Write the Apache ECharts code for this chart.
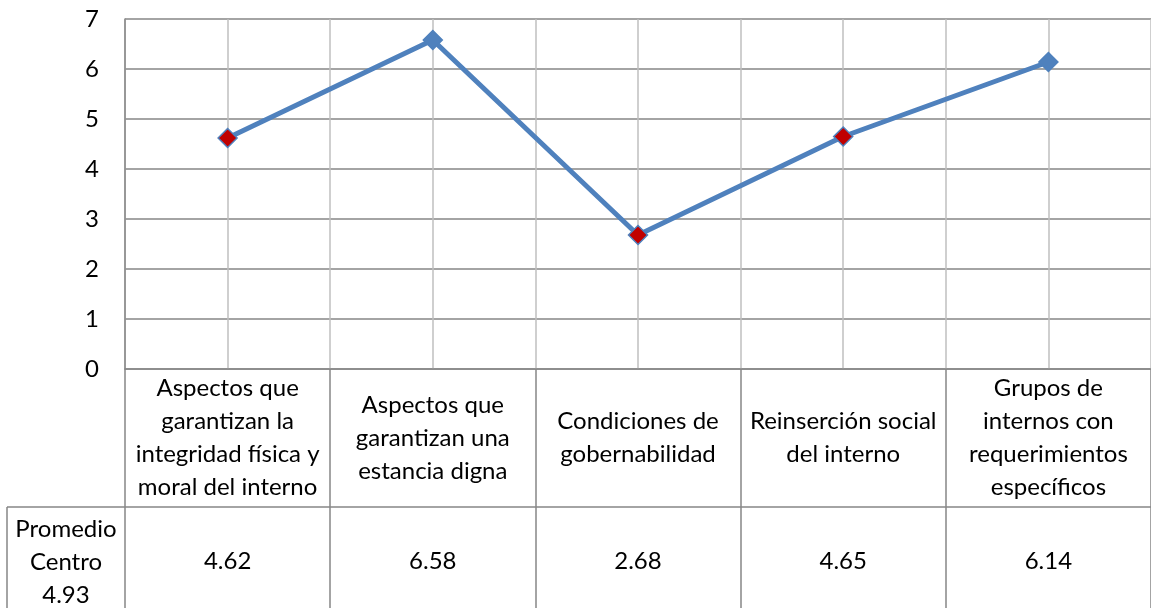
<!DOCTYPE html>
<html><head><meta charset="utf-8">
<script src="https://cdn.jsdelivr.net/npm/echarts@6/dist/echarts.min.js"></script>
<style>html,body{margin:0;padding:0;background:#fff}#c{width:1151px;height:608px}</style>
</head><body><div id="c"></div>
<script>
const categories = [
  'Aspectos que\ngarantizan la\nintegridad física y\nmoral del interno',
  'Aspectos que\ngarantizan una\nestancia digna',
  'Condiciones de\ngobernabilidad',
  'Reinserción social\ndel interno',
  'Grupos de\ninternos con\nrequerimientos\nespecíficos'
];
const values = [4.62, 6.58, 2.68, 4.65, 6.14];
const seriesName = 'Promedio\nCentro';
const centerAverage = 4.93;
const yTicks = [0, 1, 2, 3, 4, 5, 6, 7];

const FONT = 'Lato';
const FS = 24;
const chart = echarts.init(document.getElementById('c'));
const gridL = 125, gridT = 19, gridB = 239, gridR = -4;
chart.setOption({
  animation: false,
  textStyle: { fontFamily: FONT },
  grid: { left: gridL, top: gridT, right: gridR, bottom: gridB, containLabel: false },
  xAxis: [
    {
      type: 'category', data: categories, boundaryGap: true,
      axisLine: { lineStyle: { color: '#868686', width: 1.5 } },
      axisTick: { show: true, length: gridB, inside: false, lineStyle: { color: '#868686', width: 1.5 } },
      splitLine: { show: false },
      axisLabel: { interval: 0, color: '#000', fontSize: FS, fontFamily: FONT, lineHeight: 33,
        verticalAlign: 'middle', margin: 69, align: 'center' }
    },
    {
      type: 'category', data: values.map(v => v.toFixed(2)), boundaryGap: true, position: 'bottom',
      axisLine: { show: false }, axisTick: { show: false }, splitLine: { show: false },
      axisLabel: { interval: 0, color: '#000', fontSize: FS, fontFamily: FONT,
        verticalAlign: 'middle', margin: 192, align: 'center' }
    },
    {
      type: 'value', min: 0, max: categories.length * 2, interval: 1, show: true, position: 'top',
      axisLine: { show: false }, axisTick: { show: false }, axisLabel: { show: false },
      splitLine: { show: true, lineStyle: { color: '#bfbfbf', width: 1.5 } }
    }
  ],
  yAxis: {
    type: 'value', min: yTicks[0], max: yTicks[yTicks.length - 1], interval: 1,
    axisLine: { show: true, lineStyle: { color: '#868686', width: 1.5 } },
    axisTick: { show: false },
    splitLine: { show: true, lineStyle: { color: '#868686', width: 1.5 } },
    axisLabel: { color: '#000', fontSize: FS, fontFamily: FONT, margin: 26 }
  },
  series: [{
    type: 'line', xAxisIndex: 0, z: 5,
    data: values.map(v => ({
      value: v,
      itemStyle: { color: v < centerAverage ? '#C00000' : '#4F81BD', borderColor: '#4F81BD', borderWidth: 1.5 }
    })),
    symbol: 'diamond', symbolSize: 19,
    lineStyle: { color: '#4F81BD', width: 5 },
    itemStyle: { color: '#4F81BD' }
  }],
  graphic: [
    { type: 'line', shape: { x1: 7, y1: 507, x2: 1151, y2: 507 }, style: { stroke: '#868686', lineWidth: 1.5 } },
    { type: 'line', shape: { x1: 7, y1: 507, x2: 7, y2: 608 }, style: { stroke: '#868686', lineWidth: 1.5 } },
    { type: 'text', x: 66, y: 562, style: {
      text: seriesName + '\n' + centerAverage.toFixed(2), align: 'center', verticalAlign: 'middle',
      font: FS + 'px ' + FONT, fill: '#000', lineHeight: 33 } }
  ]
});
</script></body></html>
